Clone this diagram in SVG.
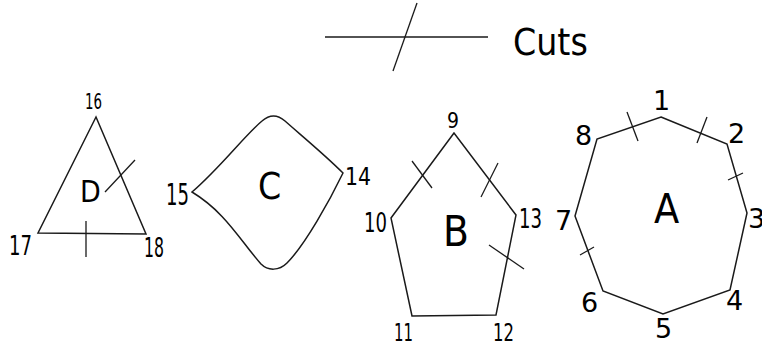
<svg xmlns="http://www.w3.org/2000/svg" width="762" height="347" viewBox="0 0 762 347">
<style>
.s{fill:none;stroke:#1a1a1a;stroke-width:1.5;stroke-linejoin:miter}
.c{fill:none;stroke:#1a1a1a;stroke-width:1.3}
text{font-family:"DejaVu Sans Condensed","DejaVu Sans",sans-serif;fill:#000}
.a{font-family:"DejaVu Sans",sans-serif;font-size:27px}
</style>
<rect width="762" height="347" fill="#fff"/>
<g id="legend">
<line class="c" x1="325" y1="37" x2="488" y2="37"/>
<line class="c" x1="417" y1="3" x2="393" y2="71"/>
<text x="513" y="55" font-size="37">Cuts</text>
</g>
<g id="D">
<polygon class="s" points="96,117 38,233 146,234"/>
<line class="c" x1="135" y1="160" x2="105" y2="192"/>
<line class="c" x1="86" y1="221" x2="86" y2="257"/>
<text x="80" y="202" font-size="30">D</text>
<text x="85" y="109" font-size="22" textLength="17" lengthAdjust="spacingAndGlyphs">16</text>
<text x="9" y="255" font-size="26" textLength="23" lengthAdjust="spacingAndGlyphs">17</text>
<text x="144" y="257" font-size="26" textLength="20" lengthAdjust="spacingAndGlyphs">18</text>
</g>
<g id="C">
<path class="s" d="M192,192 C220,168 245,135 262,121 C270,114 277,114 285,121 C302,136 325,155 343,173 C330,200 305,245 287,263 C279,271 268,271 261,264 C240,240 225,212 192,192 Z"/>
<text x="258" y="199" font-size="37">C</text>
<text x="166" y="205" font-size="31" textLength="23" lengthAdjust="spacingAndGlyphs">15</text>
<text x="345" y="185" font-size="25" textLength="26" lengthAdjust="spacingAndGlyphs">14</text>
</g>
<g id="B">
<polygon class="s" points="454,133 391,218 412,316 496,315 516,215"/>
<line class="c" x1="412" y1="161" x2="432" y2="188"/>
<line class="c" x1="498" y1="163" x2="481" y2="197"/>
<line class="c" x1="489" y1="245" x2="524" y2="269"/>
<text x="443" y="246" font-size="42">B</text>
<text x="447" y="128" font-size="22" textLength="12" lengthAdjust="spacingAndGlyphs">9</text>
<text x="364" y="232" font-size="26" textLength="23" lengthAdjust="spacingAndGlyphs">10</text>
<text x="519" y="228" font-size="27" textLength="23" lengthAdjust="spacingAndGlyphs">13</text>
<text x="394" y="341" font-size="24" textLength="19" lengthAdjust="spacingAndGlyphs">11</text>
<text x="493" y="341" font-size="25" textLength="21" lengthAdjust="spacingAndGlyphs">12</text>
</g>
<g id="A">
<polygon class="s" points="661,117 727,144 747,213 730,290 663,314 603,291 575,216 597,139"/>
<line class="c" x1="627" y1="112" x2="638" y2="141"/>
<line class="c" x1="707" y1="117" x2="697" y2="143"/>
<line class="c" x1="728" y1="180" x2="743" y2="173"/>
<line class="c" x1="580" y1="255" x2="594" y2="247"/>
<text x="654" y="223" font-size="41" font-family="DejaVu Sans, sans-serif">A</text>
<text class="a" x="653" y="110">1</text>
<text class="a" x="728" y="143">2</text>
<text class="a" x="748" y="228">3</text>
<text class="a" x="726" y="310">4</text>
<text class="a" x="655" y="338">5</text>
<text class="a" x="581" y="312">6</text>
<text class="a" x="555" y="230">7</text>
<text class="a" x="575" y="145">8</text>
</g>
</svg>
